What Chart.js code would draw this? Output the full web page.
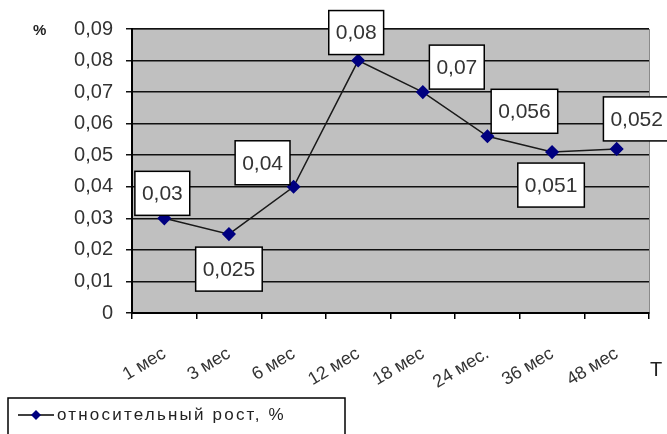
<html>
<head>
  <title>Относительный рост</title>
  <script src="https://cdn.jsdelivr.net/npm/chart.js"></script>
  <style>
    body { margin: 0; background: #fff; }
    #wrap { width: 667px; height: 434px; }
  </style>
</head>
<body>
  <div id="wrap"><canvas id="growthChart" width="667" height="434"></canvas></div>
  <script>
    // data
    const periods = ["1 мес", "3 мес", "6 мес", "12 мес", "18 мес", "24 мес.", "36 мес", "48 мес"];
    const growth = [0.03, 0.025, 0.04, 0.08, 0.07, 0.056, 0.051, 0.052];
    const seriesName = "относительный рост, %";
    const yTicks = [0, 0.01, 0.02, 0.03, 0.04, 0.05, 0.06, 0.07, 0.08, 0.09];

    // where each value box sits relative to its point (dx, dy)
    const boxShift = [[-2, -25], [0, 35], [-31, -24], [-2, -28], [34, -25], [37, -25], [-1, 33], [20, -30]];

    const font = "'Liberation Sans', Arial, sans-serif";
    const fmt = v => v === 0 ? "0" : String(v).replace(".", ",");

    const plotBg = {
      id: 'plotBg',
      beforeDraw(chart) {
        const { ctx, chartArea: a } = chart;
        ctx.save();
        ctx.fillStyle = '#c0c0c0';
        ctx.fillRect(a.left, a.top, a.right - a.left, a.bottom - a.top);
        ctx.strokeStyle = '#8a8a8a';
        ctx.lineWidth = 1;
        ctx.strokeRect(a.left + 0.5, a.top + 0.5, a.right - a.left, a.bottom - a.top);
        ctx.restore();
      },
      afterDraw(chart) {
        const { ctx } = chart;
        const meta = chart.getDatasetMeta(0);
        ctx.save();
        // value boxes
        ctx.font = "21px " + font;
        ctx.textAlign = 'center';
        ctx.textBaseline = 'middle';
        meta.data.forEach((pt, i) => {
          const txt = fmt(growth[i]);
          const w = ctx.measureText(txt).width + 14;
          const h = 44;
          const cx = pt.x + boxShift[i][0];
          const cy = pt.y + boxShift[i][1];
          ctx.fillStyle = '#fff';
          ctx.fillRect(cx - w / 2, cy - h / 2, w, h);
          ctx.strokeStyle = '#000';
          ctx.lineWidth = 1.5;
          ctx.strokeRect(cx - w / 2, cy - h / 2, w, h);
          ctx.fillStyle = '#333';
          ctx.fillText(txt, cx, cy + 1);
        });
        // axis captions
        ctx.fillStyle = '#222';
        ctx.font = "bold 15px " + font;
        ctx.textAlign = 'left';
        ctx.fillText('%', 33, 31);
        ctx.font = "20px " + font;
        ctx.fillText('T', 650, 370);
        // legend box
        ctx.strokeStyle = '#000';
        ctx.lineWidth = 1.5;
        ctx.strokeRect(8, 398, 337, 40);
        ctx.beginPath();
        ctx.moveTo(18, 415);
        ctx.lineTo(54, 415);
        ctx.stroke();
        ctx.fillStyle = '#000080';
        ctx.beginPath();
        ctx.moveTo(36, 410); ctx.lineTo(41, 415); ctx.lineTo(36, 420); ctx.lineTo(31, 415);
        ctx.closePath();
        ctx.fill();
        ctx.fillStyle = '#222';
        ctx.font = "17px " + font;
        ctx.letterSpacing = '2.2px';
        ctx.fillText(seriesName, 57, 415);
        ctx.restore();
      }
    };

    new Chart('growthChart', {
      type: 'line',
      data: {
        labels: periods,
        datasets: [{
          label: seriesName,
          data: growth,
          borderColor: '#1a1a1a',
          borderWidth: 1.5,
          pointStyle: 'rectRot',
          pointRadius: 6,
          pointBackgroundColor: '#000080',
          pointBorderColor: '#000080',
          tension: 0
        }]
      },
      options: {
        responsive: false,
        animation: false,
        layout: { padding: { top: 29, right: 18, left: 0, bottom: 0 } },
        plugins: { legend: { display: false }, tooltip: { enabled: false } },
        scales: {
          x: {
            offset: true,
            grid: { offset: true, color: 'transparent', tickColor: '#000', tickLength: 6, lineWidth: 1.5 },
            border: { color: '#000', width: 2 },
            ticks: {
              minRotation: 31, maxRotation: 31, padding: 24,
              color: '#333', font: { family: font, size: 18 }
            },
            afterFit(scale) { scale.height = 121; }
          },
          y: {
            min: 0, max: 0.09,
            afterBuildTicks(scale) { scale.ticks = yTicks.map(v => ({ value: v })); },
            grid: { color: '#111', lineWidth: 1.5, tickLength: 6 },
            border: { color: '#000', width: 2 },
            ticks: {
              padding: 13, color: '#333',
              font: { family: font, size: 20 },
              callback: v => fmt(v)
            },
            afterFit(scale) { scale.width = 132; }
          }
        }
      },
      plugins: [plotBg]
    });
  </script>
</body>
</html>
